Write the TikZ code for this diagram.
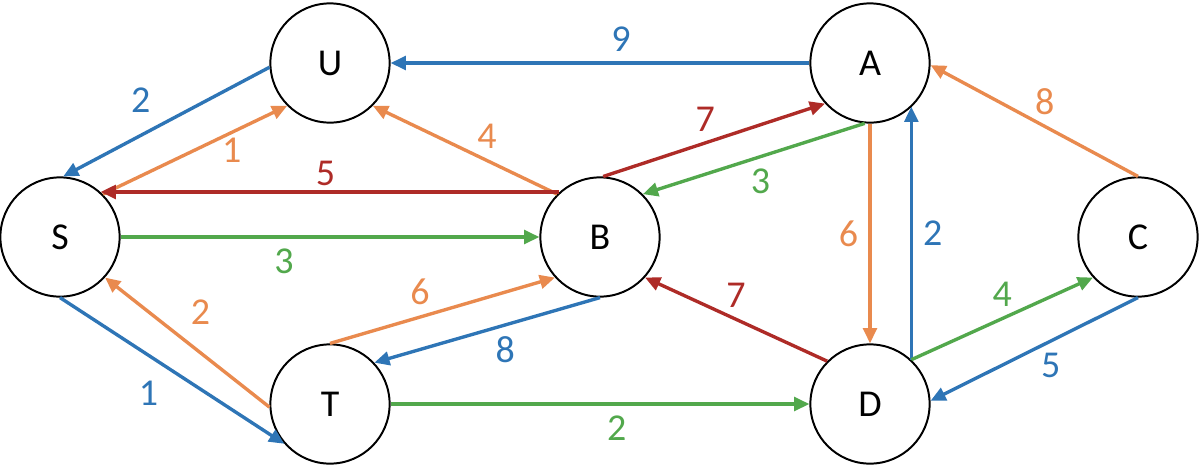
\documentclass[tikz,border=0pt]{standalone}
\usepackage{fontspec}
\setmainfont{Carlito}
\usetikzlibrary{arrows.meta}
\definecolor{eblue}{HTML}{2E75B6}
\definecolor{eorange}{HTML}{E98A4E}
\definecolor{ered}{HTML}{AE2B27}
\definecolor{egreen}{HTML}{52A84C}

\begin{document}
\begin{tikzpicture}[x=0.0125cm,y=0.0125cm,
  v/.style={circle,draw,line width=0.7pt,minimum size=1.49cm,inner sep=0pt,font=\fontsize{13.5}{16}\selectfont},
  e/.style={line width=1.2pt,-{Triangle[length=1.9mm,width=1.7mm]}},
  w/.style={font=\fontsize{13.5}{16}\selectfont,inner sep=3.6pt}]
  \useasboundingbox (0,0) rectangle (1200,474);
  % vertices
  \node[v] (U) at (330,411) {U};
  \node[v] (A) at (870,411) {A};
  \node[v] (S) at (60,237) {S};
  \node[v] (B) at (600,237) {B};
  \node[v] (C) at (1138,237) {C};
  \node[v] (T) at (330,70) {T};
  \node[v] (D) at (870,70) {D};
  % blue edges
  \draw[e,eblue] (A.180) -- node[w,pos=.45,above]{9} (U.0);
  \draw[e,eblue] (U.184) -- node[w,pos=.52,above left]{2} (S.87);
  \draw[e,eblue] (D.47) -- node[w,pos=.5,right]{2} (D.47 |- A.-46);
  \draw[e,eblue] (C.270) -- node[w,pos=.42,below]{5} (D.3);
  \draw[e,eblue] (B.270) -- node[w,pos=.42,below]{8} (T.43);
  \draw[e,eblue] (S.270) -- node[w,pos=.49,below left]{1} (T.221);
  % orange edges
  \draw[e,eorange] (S.45) -- node[w,pos=.7,below,yshift=2pt]{1} (U.225);
  \draw[e,eorange] (B.135) -- node[w,pos=.38,above]{4} (U.-45);
  \draw[e,eorange] (A.270) -- node[w,pos=.5,left]{6} (D.90);
  \draw[e,eorange] (C.90) -- node[w,pos=.45,above]{8} (A.-2);
  \draw[e,eorange] (T.90) -- node[w,pos=.4,above]{6} (B.222);
  \draw[e,eorange] (T.183) -- node[w,pos=.55,above right]{2} (S.-42);
  % red edges
  \draw[e,ered] (B.132) -- node[w,pos=.51,above,yshift=-2pt]{5} (S.48);
  \draw[e,ered] (B.87) -- node[w,pos=.46,above]{7} (A.222);
  \draw[e,ered] (D.135) -- node[w,pos=.5,above]{7} (B.-42);
  % green edges
  \draw[e,egreen] (S.0) -- node[w,pos=.39,below]{3} (B.180);
  \draw[e,egreen] (A.265) -- node[w,pos=.47,below]{3} (B.45);
  \draw[e,egreen] (D.47) -- node[w,pos=.5,above]{4} (C.222);
  \draw[e,egreen] (T.0) -- node[w,pos=.54,below]{2} (D.180);
\end{tikzpicture}
\end{document}
